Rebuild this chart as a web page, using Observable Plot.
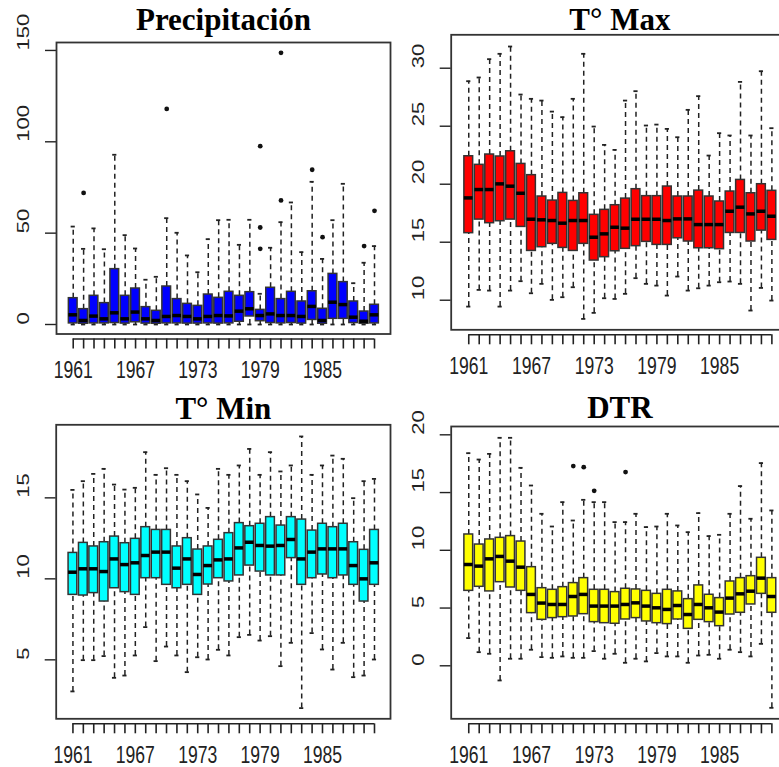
<!DOCTYPE html>
<html><head><meta charset="utf-8">
<script src="https://cdn.jsdelivr.net/npm/d3@7"></script>
<script src="https://cdn.jsdelivr.net/npm/@observablehq/plot@0.6"></script>
<style>
html,body{margin:0;padding:0;background:#fff;}
#chart{position:relative;width:779px;height:767px;overflow:hidden;background:#fff;}
#chart svg{position:absolute;max-width:none;}
#chart svg [aria-label^="x-axis"] line, #chart svg [aria-label^="x-axis"] path{stroke-width:1.6px;stroke:#222;}
#chart svg [aria-label^="y-axis"] line, #chart svg [aria-label^="y-axis"] path{stroke-width:1.4px;stroke:#222;}
</style></head><body><div id="chart"></div>
<script>
// ---------- DATA ----------
const years = [1961,1962,1963,1964,1965,1966,1967,1968,1969,1970,1971,1972,1973,1974,1975,1976,1977,1978,1979,1980,1981,1982,1983,1984,1985,1986,1987,1988,1989,1990];
const xLabels = [1961,1967,1973,1979,1985];

// Precipitación
const precLo  = [0,0,0,0,0,0,0,0,0,0,0,0,0,0,0,0,0,0,0,0,0,0,0,0,0,0,0,0,0,0];
const precQ1  = [0.6,0.4,0.6,0.6,0.8,0.5,1.2,0.5,0.4,0.6,0.6,0.5,0.5,0.6,0.5,0.6,1.5,4.4,1.8,0.8,0.6,0.8,0.5,2.5,0.4,3.1,3.1,0.8,0.4,0.6];
const precMed = [5.3,2.2,4.6,3.1,6.4,3.1,6.8,3.1,2.2,4.4,4.9,4.4,3.1,4.4,4.9,4.7,7.3,8.6,4.9,5.8,4.9,4.9,4.4,9.9,2.2,12.2,10.9,4.0,1.8,5.3];
const precQ3  = [14.4,8.4,15.7,11.7,30.3,15.7,19.7,9.5,7.5,20.8,13.9,11.3,10.2,16.4,14.6,17.9,15.7,17.7,8.0,20.1,13.9,17.9,12.6,18.2,8.6,27.7,23.2,12.6,7.1,10.8];
const precHi  = [53.6,41.4,52.6,41.2,92.9,48.9,41.6,24.5,26.1,58.2,50.2,37.8,28.6,46.7,57.1,57.3,43.6,57.3,16.8,42.0,56.0,66.8,39.6,78.1,35.9,57.1,77.0,22.6,33.8,42.9];
const precOutYear  = [1962,1970,1979,1979,1979,1981,1981,1984,1985,1989,1990];
const precOutValue = [72,118,53.1,41.4,97.6,67.9,148.7,84.7,47.8,42.9,62.2];

// T° Max
const tmaxLo  = [9.45,10.89,10.83,9.45,10.83,11.64,10.6,11.41,10.03,10.26,11.12,8.39,8.91,10.17,10.11,10.55,11.9,11.41,11.26,10.4,12.04,10.83,11.03,11.26,11.55,11.61,11.41,9.11,11.06,9.97];
const tmaxQ1  = [15.78,16.95,16.64,16.81,16.95,16.32,14.25,14.57,14.86,14.51,14.25,14.86,13.42,13.71,14.22,14.43,14.66,15.03,14.77,14.77,15.34,15.06,14.48,14.48,14.4,15.8,15.8,15.06,16.0,15.2];
const tmaxMed = [18.82,19.54,19.54,20.03,19.83,19.22,16.98,16.93,16.87,16.64,16.87,16.87,15.43,15.72,16.29,16.21,16.98,16.98,16.98,16.87,17.01,17.01,16.52,16.52,16.52,17.67,18.02,17.44,17.67,17.24];
const tmaxQ3  = [22.41,21.67,22.56,22.39,22.84,21.75,20.78,18.94,18.59,19.25,18.56,19.22,17.36,17.79,18.19,18.76,19.57,18.97,18.97,19.8,18.94,18.94,19.45,18.94,18.51,19.37,20.37,19.22,20.0,19.43];
const tmaxHi  = [28.88,29.2,30.78,31.24,31.87,27.73,27.36,27.21,26.26,25.78,27.36,31.24,24.97,23.39,22.96,27.21,28.02,25.06,25.14,24.77,24.05,26.41,27.59,22.47,24.4,24.2,28.82,24.2,29.74,24.83];
const tmaxOutYear = [];
const tmaxOutValue = [];

// T° Min
const tminLo  = [3.05,4.98,4.98,5.23,3.89,4.03,5.27,7.02,4.92,5.82,5.27,4.24,5.16,5.02,5.62,5.27,6.4,6.54,6.19,6.46,4.61,6.05,2.02,6.65,5.64,4.4,6.05,3.93,4.03,5.02];
const tminQ1  = [9.01,8.97,9.12,8.6,9.42,9.18,9.01,10.04,10.04,9.63,9.42,9.63,9.01,9.65,10.04,9.84,10.21,10.82,10.45,10.21,10.21,11.28,9.63,10.04,10.27,10.04,10.21,9.63,8.6,9.63];
const tminMed = [10.41,10.62,10.62,10.45,11.23,10.88,10.99,11.44,11.65,11.65,10.66,11.23,10.27,10.82,11.17,11.23,11.91,12.26,12.06,12.02,12.06,12.43,11.23,11.65,11.85,11.85,11.85,10.82,10.0,10.99];
const tminQ3  = [11.6,12.22,12.0,12.26,12.61,12.2,12.47,13.19,13.02,13.02,12.0,12.51,11.81,12.0,12.41,12.82,13.44,13.25,13.4,13.81,13.29,13.81,13.66,12.98,13.4,13.19,13.4,12.26,11.79,13.02];
const tminHi  = [15.49,16.03,16.48,16.79,15.82,15.51,15.62,17.82,16.42,16.83,16.42,16.03,15.21,14.38,16.79,16.42,17.0,18.02,16.42,17.82,16.63,17.0,18.79,16.42,17.0,17.61,17.41,14.98,16.03,16.17];
const tminOutYear = [];
const tminOutValue = [];

// DTR
const dtrLo  = [2.4,1.18,1.04,-1.27,0.61,0.61,1.39,0.75,0.69,0.81,0.69,0.69,1.27,0.61,1.04,0.26,0.61,0.38,1.1,0.81,0.81,0.26,0.89,0.95,0.61,1.39,1.18,0.81,1.9,-3.64];
const dtrQ1  = [6.49,6.84,6.44,7.24,6.78,6.49,4.56,3.98,4.13,4.21,4.27,4.47,3.78,3.69,3.64,4.01,4.13,3.84,3.69,3.61,4.01,3.2,3.98,3.78,3.43,4.44,4.59,5.31,6.23,4.59];
const dtrMed = [8.77,8.63,9.26,9.47,9.06,8.54,6.18,5.43,5.31,5.31,6.0,6.18,5.17,5.17,5.17,5.31,5.45,5.17,5.02,4.88,5.22,4.44,5.31,5.02,4.65,5.86,6.23,6.46,7.59,6.0];
const dtrQ3  = [11.37,10.5,10.94,11.08,11.23,10.76,8.54,6.72,6.58,6.81,7.16,7.59,6.58,6.58,6.38,6.67,6.61,6.49,6.23,6.58,6.44,5.77,6.96,6.15,5.86,7.3,7.59,7.76,9.35,7.59];
const dtrHi  = [18.41,17.86,18.35,19.74,19.74,17.14,15.61,13.16,12.06,14.17,12.58,14.37,14.17,14.17,12.44,12.44,13.16,12.01,12.06,13.16,12.15,11.57,13.22,11.23,11.34,13.16,15.56,12.73,17.55,13.45];
const dtrOutYear  = [1971,1972,1973,1976];
const dtrOutValue = [17.29,17.2,15.15,16.77];

// ---------- DRAW ----------
const chart = document.getElementById("chart");
const X_FS = 17.6, Y_FS = 16.6;

function panel(cfg) {
  const rows = years.map((y, i) => ({year: y, lo: cfg.lo[i], q1: cfg.q1[i], med: cfg.med[i], q3: cfg.q3[i], hi: cfg.hi[i]}));
  const outs = cfg.outYear.map((y, i) => ({year: y, value: cfg.outVal[i]}));
  const bw = 0.42, sw = 0.2, gap = 5;
  const svg = Plot.plot({
    width: cfg.width, height: cfg.height,
    marginLeft: cfg.ml, marginRight: cfg.mr, marginTop: cfg.mt, marginBottom: cfg.mb,
    style: {background: "transparent", overflow: "visible", color: "#222", fontFamily: "'Liberation Sans', Arial, sans-serif"},
    x: {type: "linear", domain: cfg.xDomain, ticks: years, tickSize: 10, tickFormat: () => "", label: null},
    y: {domain: cfg.yDomain, insetBottom: gap, ticks: cfg.yTicks, tickSize: 11, tickFormat: () => "", label: null},
    marks: [
      Plot.ruleX(rows, {x: "year", y1: "q3", y2: "hi", stroke: "#222", strokeWidth: 1.5, strokeDasharray: "5,4"}),
      Plot.ruleX(rows, {x: "year", y1: "lo", y2: "q1", stroke: "#222", strokeWidth: 1.5, strokeDasharray: "5,4"}),
      Plot.ruleY(rows, {y: "hi", x1: d => d.year - sw, x2: d => d.year + sw, stroke: "#222", strokeWidth: 1.8}),
      Plot.ruleY(rows, {y: "lo", x1: d => d.year - sw, x2: d => d.year + sw, stroke: "#222", strokeWidth: 1.8}),
      Plot.rect(rows, {x1: d => d.year - bw, x2: d => d.year + bw, y1: "q1", y2: "q3", fill: cfg.fill, stroke: "#333", strokeWidth: 1.5}),
      Plot.ruleY(rows, {y: "med", x1: d => d.year - bw, x2: d => d.year + bw, stroke: "#000", strokeWidth: 3.5}),
      Plot.dot(outs, {x: "year", y: "value", r: 2.4, fill: "#111", stroke: "none"}),
      Plot.frame({insetBottom: gap, stroke: "#333", strokeWidth: 1.8}),
      Plot.ruleY([cfg.yDomain[0]], {x1: years[0], x2: years[years.length - 1], dy: gap, stroke: "#222", strokeWidth: 1.4}),
      Plot.text(cfg.yTicks, {y: d => d, text: d => String(d), frameAnchor: "left", dx: -33, rotate: -90, fontSize: Y_FS, fill: "#222"}),
      Plot.text(xLabels, {x: d => d, text: d => String(d), frameAnchor: "bottom", dy: 39, fontSize: X_FS, fill: "#222"}),
      Plot.text([cfg.title], {text: d => d, frameAnchor: "top", dy: -cfg.titleGap, lineAnchor: "bottom", fontFamily: "'Liberation Serif', 'Times New Roman', serif", fontWeight: "bold", fontSize: 31, fill: "#000"})
    ]
  });
  // stretch the sans-serif tick labels vertically, as in the reference
  svg.querySelectorAll("g").forEach(g => {
    const fs = parseFloat(g.getAttribute("font-size"));
    if (fs === X_FS) g.querySelectorAll("text").forEach(t => t.setAttribute("transform", (t.getAttribute("transform") || "") + " scale(1,1.33)"));
    if (fs === Y_FS) g.querySelectorAll("text").forEach(t => t.setAttribute("transform", (t.getAttribute("transform") || "") + " scale(1.33,1)"));
  });
  svg.style.left = cfg.left + "px";
  svg.style.top = cfg.top + "px";
  chart.appendChild(svg);
}

panel({title: "Precipitación", fill: "#0000ff", left: 0, top: 0, width: 392, height: 385,
  ml: 56, mr: 2, mt: 42, mb: 46.5, titleGap: 13,
  xDomain: [1959.39, 1991.54], yDomain: [-5.2, 154.35], yTicks: [0, 50, 100, 150],
  lo: precLo, q1: precQ1, med: precMed, q3: precQ3, hi: precHi, outYear: precOutYear, outVal: precOutValue});

panel({title: "T° Max", fill: "#ff0000", left: 389, top: 0, width: 401, height: 385,
  ml: 61.7, mr: 2, mt: 34.3, mb: 50.7, titleGap: 5,
  xDomain: [1959.32, 1991.59], yDomain: [7.45, 32.88], yTicks: [10, 15, 20, 25, 30],
  lo: tmaxLo, q1: tmaxQ1, med: tmaxMed, q3: tmaxQ3, hi: tmaxHi, outYear: tmaxOutYear, outVal: tmaxOutValue});

panel({title: "T° Min", fill: "#00ffff", left: 0, top: 385, width: 392, height: 382,
  ml: 55.7, mr: 2, mt: 39.3, mb: 43.7, titleGap: 6,
  xDomain: [1959.39, 1991.54], yDomain: [1.36, 19.51], yTicks: [5, 10, 15],
  lo: tminLo, q1: tminQ1, med: tminMed, q3: tminQ3, hi: tminHi, outYear: tminOutYear, outVal: tminOutValue});

panel({title: "DTR", fill: "#ffff00", left: 389, top: 385, width: 401, height: 382,
  ml: 61.7, mr: 2, mt: 41, mb: 43.7, titleGap: 9,
  xDomain: [1959.32, 1991.59], yDomain: [-4.59, 20.72], yTicks: [0, 5, 10, 15, 20],
  lo: dtrLo, q1: dtrQ1, med: dtrMed, q3: dtrQ3, hi: dtrHi, outYear: dtrOutYear, outVal: dtrOutValue});
</script>
</body></html>
